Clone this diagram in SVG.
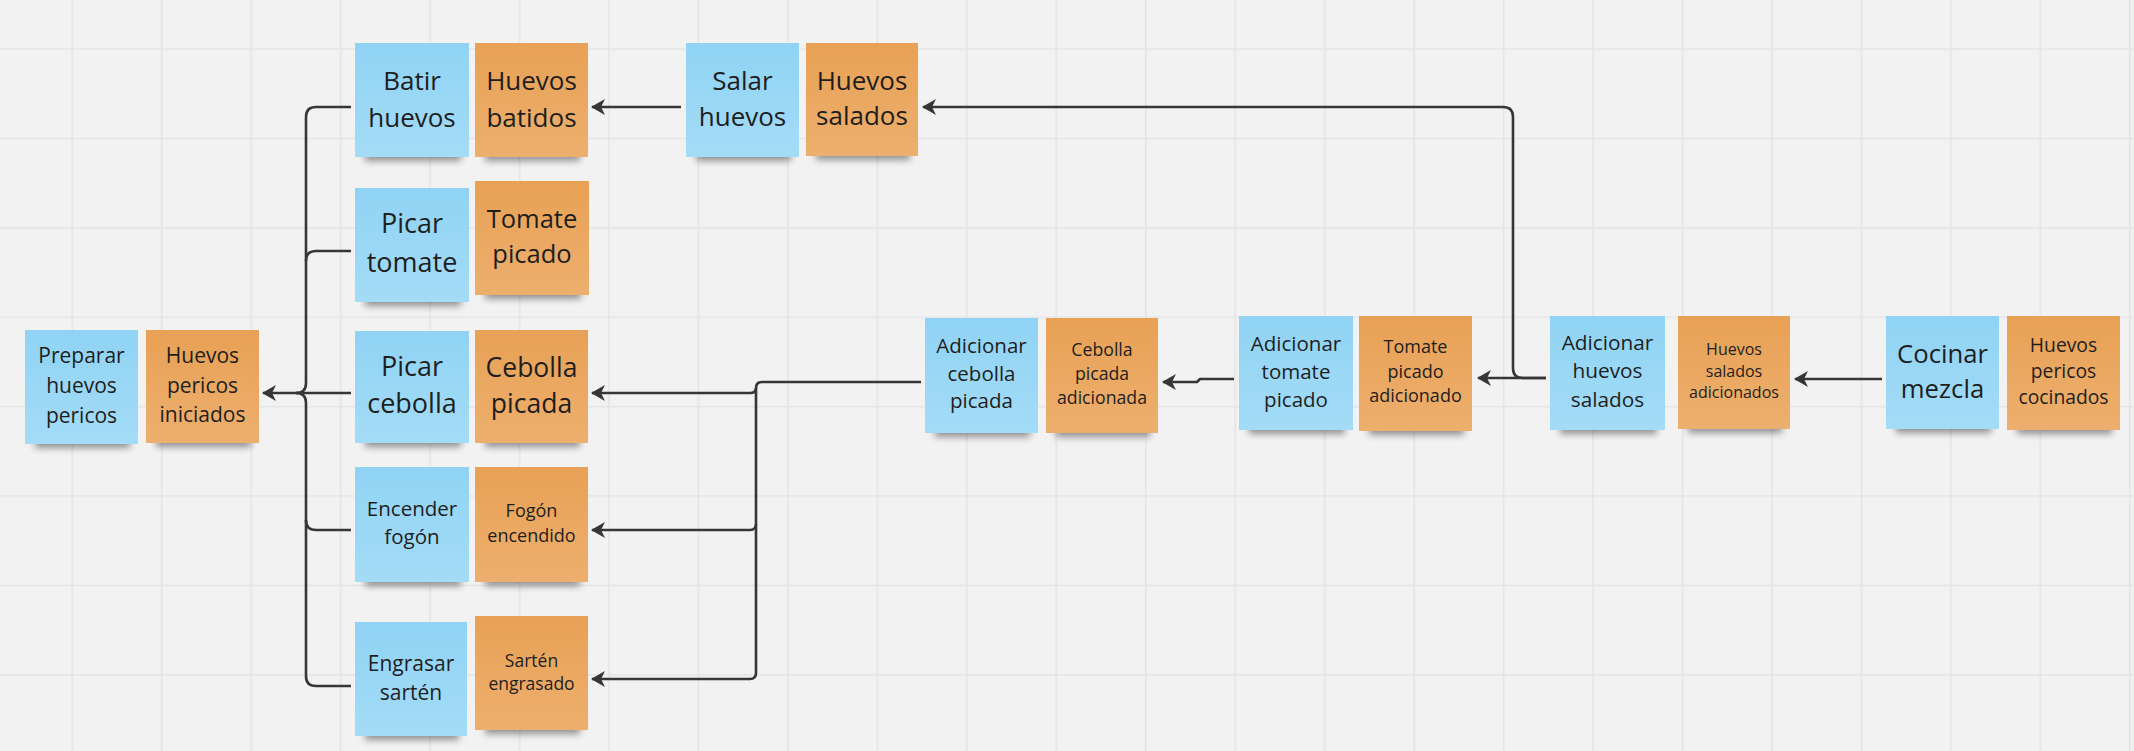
<svg xmlns="http://www.w3.org/2000/svg" width="2134" height="751" viewBox="0 0 2134 751">
<defs>
<pattern id="grid" x="71.43" y="48.3" width="89.46" height="89.4" patternUnits="userSpaceOnUse">
<rect width="89.46" height="89.4" fill="#f2f2f2"/>
<path d="M0.75,0 V89.4 M0,0.75 H89.46" stroke="#e4e4e4" stroke-width="1.5" fill="none"/>
</pattern>
<linearGradient id="gBlue" x1="0" y1="0" x2="0" y2="1">
<stop offset="0" stop-color="#90d3f4"/>
<stop offset="1" stop-color="#a3dcf7"/>
</linearGradient>
<linearGradient id="gOrange" x1="0" y1="0" x2="0" y2="1">
<stop offset="0" stop-color="#e8a155"/>
<stop offset="1" stop-color="#edaf6e"/>
</linearGradient>
<filter id="blur" x="-20%" y="-100%" width="140%" height="300%">
<feGaussianBlur stdDeviation="3.5"/>
</filter>
<marker id="arrow" viewBox="0 0 14 16" refX="13" refY="8" markerWidth="14" markerHeight="16" markerUnits="userSpaceOnUse" orient="auto">
<path d="M0,0 L14,8 L0,16 L4,8 Z" fill="#363636"/>
</marker>
</defs>
<style>
.blue{fill:url(#gBlue)}
.orange{fill:url(#gOrange)}
.sh{fill:#000;opacity:.4;filter:url(#blur)}
text{font-family:"Open Sans","Noto Sans","Liberation Sans",sans-serif;fill:#1e1e1e;text-anchor:middle}
.c{fill:none;stroke:#363636;stroke-width:2.6;stroke-linejoin:round}
.a{marker-end:url(#arrow)}
</style>
<rect width="2134" height="751" fill="url(#grid)"/>

<g id="connectors">
<path class="c" d="M351,107 H316 Q306,107 306,117 V383 Q306,393 296,393"/>
<path class="c" d="M351,251 H316 Q306,251 306,261"/>
<path class="c a" d="M351,393 H263"/>
<path class="c" d="M351,530 H316 Q306,530 306,520"/>
<path class="c" d="M351,686 H316 Q306,686 306,676 V403 Q306,393 296,393"/>
<path class="c a" d="M681,107 H592"/>
<path class="c a" d="M1546,378 H1523 Q1513,378 1513,368 V117 Q1513,107 1503,107 H923"/>
<path class="c a" d="M1546,378 H1478"/>
<path class="c a" d="M1882,379 H1795"/>
<path class="c a" d="M1234,379 H1200 L1197,382 H1163"/>
<path class="c a" d="M921,382 H762 Q756,382 756,388 Q756,393 750,393 H592"/>
<path class="c a" d="M756,388 V524 Q756,530 750,530 H592"/>
<path class="c a" d="M756,524 V673 Q756,679 750,679 H592"/>
</g>

<g id="n-preparar">
<rect class="sh" x="35" y="436" width="95" height="12"/>
<rect class="blue" x="25" y="330" width="113" height="114"/>
<text font-size="21"><tspan x="81.5" y="363">Preparar</tspan><tspan x="81.5" y="393">huevos</tspan><tspan x="81.5" y="423">pericos</tspan></text>
</g>
<g id="n-iniciados">
<rect class="sh" x="156" y="435" width="95" height="12"/>
<rect class="orange" x="146" y="330" width="113" height="113"/>
<text font-size="21"><tspan x="202.5" y="363">Huevos</tspan><tspan x="202.5" y="393">pericos</tspan><tspan x="202.5" y="422">iniciados</tspan></text>
</g>
<g id="n-batir">
<rect class="sh" x="365" y="149" width="96" height="12"/>
<rect class="blue" x="355" y="43" width="114" height="114"/>
<text font-size="26"><tspan x="412" y="90">Batir</tspan><tspan x="412" y="126.5">huevos</tspan></text>
</g>
<g id="n-batidos">
<rect class="sh" x="485" y="149" width="95" height="12"/>
<rect class="orange" x="475" y="43" width="113" height="114"/>
<text font-size="26"><tspan x="531.5" y="90">Huevos</tspan><tspan x="531.5" y="126.5">batidos</tspan></text>
</g>
<g id="n-picar-tomate">
<rect class="sh" x="365" y="294" width="96" height="12"/>
<rect class="blue" x="355" y="188" width="114" height="114"/>
<text font-size="27"><tspan x="412" y="233">Picar</tspan><tspan x="412" y="271.5">tomate</tspan></text>
</g>
<g id="n-tomate-picado">
<rect class="sh" x="485" y="287" width="96" height="12"/>
<rect class="orange" x="475" y="181" width="114" height="114"/>
<text font-size="25.5"><tspan x="532" y="228">Tomate</tspan><tspan x="532" y="263">picado</tspan></text>
</g>
<g id="n-picar-cebolla">
<rect class="sh" x="365" y="435" width="96" height="12"/>
<rect class="blue" x="355" y="331" width="114" height="112"/>
<text font-size="27"><tspan x="412" y="375.7">Picar</tspan><tspan x="412" y="413">cebolla</tspan></text>
</g>
<g id="n-cebolla-picada">
<rect class="sh" x="485" y="435" width="95" height="12"/>
<rect class="orange" x="475" y="330" width="113" height="113"/>
<text font-size="26.5"><tspan x="531.5" y="376.7">Cebolla</tspan><tspan x="531.5" y="412.7">picada</tspan></text>
</g>
<g id="n-encender">
<rect class="sh" x="365" y="574" width="96" height="12"/>
<rect class="blue" x="355" y="467" width="114" height="115"/>
<text font-size="20.5"><tspan x="412" y="516">Encender</tspan><tspan x="412" y="544">fogón</tspan></text>
</g>
<g id="n-fogon">
<rect class="sh" x="485" y="574" width="95" height="12"/>
<rect class="orange" x="475" y="467" width="113" height="115"/>
<text font-size="18"><tspan x="531.5" y="517">Fogón</tspan><tspan x="531.5" y="541.5">encendido</tspan></text>
</g>
<g id="n-engrasar">
<rect class="sh" x="365" y="728" width="94" height="12"/>
<rect class="blue" x="355" y="622" width="112" height="114"/>
<text font-size="21"><tspan x="411" y="670.7">Engrasar</tspan><tspan x="411" y="700">sartén</tspan></text>
</g>
<g id="n-sarten">
<rect class="sh" x="485" y="722" width="95" height="12"/>
<rect class="orange" x="475" y="616" width="113" height="114"/>
<text font-size="17.5"><tspan x="531.5" y="666.7">Sartén</tspan><tspan x="531.5" y="690">engrasado</tspan></text>
</g>
<g id="n-salar">
<rect class="sh" x="696" y="149" width="95" height="12"/>
<rect class="blue" x="686" y="43" width="113" height="114"/>
<text font-size="26"><tspan x="742.5" y="90">Salar</tspan><tspan x="742.5" y="126">huevos</tspan></text>
</g>
<g id="n-salados">
<rect class="sh" x="816" y="148" width="94" height="12"/>
<rect class="orange" x="806" y="43" width="112" height="113"/>
<text font-size="26"><tspan x="862" y="90">Huevos</tspan><tspan x="862" y="125">salados</tspan></text>
</g>
<g id="n-add-cebolla">
<rect class="sh" x="935" y="425" width="95" height="12"/>
<rect class="blue" x="925" y="318" width="113" height="115"/>
<text font-size="20.5"><tspan x="981.5" y="352.7">Adicionar</tspan><tspan x="981.5" y="380.7">cebolla</tspan><tspan x="981.5" y="408">picada</tspan></text>
</g>
<g id="n-cebolla-add">
<rect class="sh" x="1056" y="425" width="94" height="12"/>
<rect class="orange" x="1046" y="318" width="112" height="115"/>
<text font-size="17.7"><tspan x="1102" y="356">Cebolla</tspan><tspan x="1102" y="380">picada</tspan><tspan x="1102" y="404.3">adicionada</tspan></text>
</g>
<g id="n-add-tomate">
<rect class="sh" x="1249" y="422" width="96" height="12"/>
<rect class="blue" x="1239" y="316" width="114" height="114"/>
<text font-size="20.5"><tspan x="1296" y="350.7">Adicionar</tspan><tspan x="1296" y="379">tomate</tspan><tspan x="1296" y="406.7">picado</tspan></text>
</g>
<g id="n-tomate-add">
<rect class="sh" x="1369" y="423" width="95" height="12"/>
<rect class="orange" x="1359" y="316" width="113" height="115"/>
<text font-size="18"><tspan x="1415.5" y="353.3">Tomate</tspan><tspan x="1415.5" y="377.7">picado</tspan><tspan x="1415.5" y="402.3">adicionado</tspan></text>
</g>
<g id="n-add-huevos">
<rect class="sh" x="1560" y="422" width="97" height="12"/>
<rect class="blue" x="1550" y="316" width="115" height="114"/>
<text font-size="20.8"><tspan x="1607.5" y="350">Adicionar</tspan><tspan x="1607.5" y="378.3">huevos</tspan><tspan x="1607.5" y="406.7">salados</tspan></text>
</g>
<g id="n-salados-add">
<rect class="sh" x="1688" y="421" width="94" height="12"/>
<rect class="orange" x="1678" y="316" width="112" height="113"/>
<text font-size="16"><tspan x="1734" y="355">Huevos</tspan><tspan x="1734" y="376.7">salados</tspan><tspan x="1734" y="398.3">adicionados</tspan></text>
</g>
<g id="n-cocinar">
<rect class="sh" x="1896" y="421" width="95" height="12"/>
<rect class="blue" x="1886" y="316" width="113" height="113"/>
<text font-size="25.7"><tspan x="1942.5" y="363.3">Cocinar</tspan><tspan x="1942.5" y="398.3">mezcla</tspan></text>
</g>
<g id="n-cocinados">
<rect class="sh" x="2017" y="422" width="95" height="12"/>
<rect class="orange" x="2007" y="316" width="113" height="114"/>
<text font-size="19.3"><tspan x="2063.5" y="351.7">Huevos</tspan><tspan x="2063.5" y="378.3">pericos</tspan><tspan x="2063.5" y="404">cocinados</tspan></text>
</g>
</svg>
